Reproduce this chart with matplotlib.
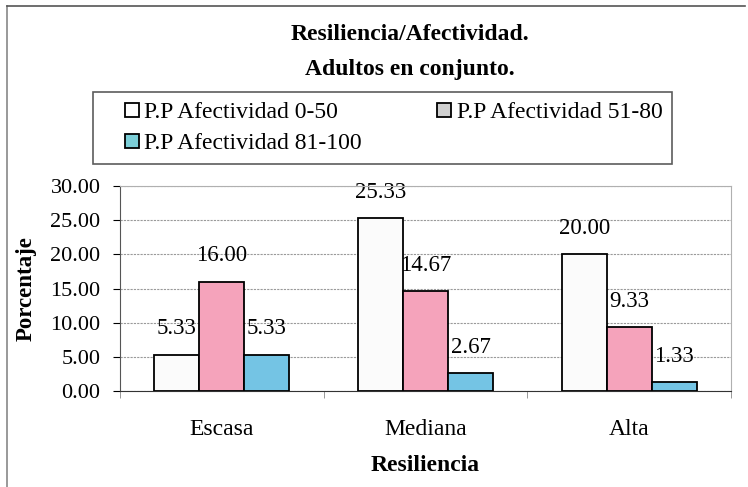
import matplotlib
matplotlib.use("Agg")
import matplotlib.pyplot as plt
from matplotlib.lines import Line2D
import numpy as np

categorias = ["Escasa", "Mediana", "Alta"]
series = ["P.P Afectividad 0-50", "P.P Afectividad 51-80", "P.P Afectividad 81-100"]
afect_0_50 = [5.33, 25.33, 20.00]
afect_51_80 = [16.00, 14.67, 9.33]
afect_81_100 = [5.33, 2.67, 1.33]
valores = [afect_0_50, afect_51_80, afect_81_100]

colores = ["#fbfbfb", "#f5a3bb", "#74c4e4"]
colores_leyenda = ["#ffffff", "#cfcfcf", "#7ccfd8"]

plt.rcParams["font.family"] = ["Liberation Serif", "DejaVu Serif"]

fig = plt.figure(figsize=(7.48, 4.87), dpi=100)
ax = fig.add_axes([120 / 748, 1 - 391 / 487, 611 / 748, 205 / 487])

x = np.arange(len(categorias))
ancho = 0.221
for i, (vals, color) in enumerate(zip(valores, colores)):
    pos = x + (i - 1) * ancho
    ax.bar(pos, vals, width=ancho, color=color, edgecolor="black",
           linewidth=1.3, zorder=3)
    for px, v in zip(pos, vals):
        ax.annotate(f"{v:.2f}", (px, v), xytext=(0, 18.5),
                    textcoords="offset points", ha="center", va="center",
                    fontsize=16.5, zorder=2)

ax.set_xlim(-0.5, 2.5)
ax.set_ylim(0, 30)
ax.set_yticks(np.arange(0, 31, 5))
ax.set_yticklabels([f"{t:.2f}" for t in np.arange(0, 31, 5)], fontsize=16)
ax.set_xticks(x)
ax.set_xticklabels(categorias, fontsize=17)
ax.set_xticks([-0.5, 0.5, 1.5, 2.5], minor=True)
ax.tick_params(axis="x", which="major", length=0, pad=20)
ax.tick_params(axis="x", which="minor", length=5, direction="out", color="#888888")
ax.tick_params(axis="y", length=5, direction="out", pad=9)

ax.grid(axis="y", color="#9a9a9a", linestyle=(0, (2, 1)), linewidth=0.8, zorder=0)
ax.set_axisbelow(True)
for s in ["top", "right"]:
    ax.spines[s].set_color("#b0b0b0")
    ax.spines[s].set_linewidth(0.8)
ax.spines["left"].set_color("#555555")
ax.spines["bottom"].set_color("#333333")

ax.set_xlabel("Resiliencia", fontsize=17, fontweight="bold", labelpad=11)
ax.set_ylabel("Porcentaje", fontsize=16.5, fontweight="bold", labelpad=10)

fig.text(0.548, 1 - 35 / 487, "Resiliencia/Afectividad.", ha="center",
         va="center", fontsize=17, fontweight="bold")
fig.text(0.548, 1 - 70 / 487, "Adultos en conjunto.", ha="center",
         va="center", fontsize=17, fontweight="bold")

# columnas: la primera lleva 0-50 y 81-100, la segunda 51-80
orden = [0, 2, 1]
handles = [Line2D([], [], linestyle="none", marker="s", markersize=10,
                  markerfacecolor=colores_leyenda[k], markeredgecolor="black",
                  markeredgewidth=1.3) for k in orden]
etiquetas = [series[k] for k in orden]
leg = fig.legend(handles, etiquetas, loc="upper left",
                 bbox_to_anchor=(93 / 748, 1 - 162 / 487, 579 / 748, 70 / 487),
                 mode="expand", ncol=2, fontsize=17, frameon=True,
                 fancybox=False, edgecolor="#333333", handlelength=2.45,
                 handletextpad=-0.7, borderpad=0.41, labelspacing=0.4,
                 borderaxespad=0, numpoints=1)
leg.get_frame().set_linewidth(1.2)

# marco exterior
fig.add_artist(Line2D([7 / 748, 7 / 748], [0, 1 - 6 / 487], color="#888888", lw=1.2))
fig.add_artist(Line2D([7 / 748, 745 / 748], [1 - 6 / 487, 1 - 6 / 487], color="#555555", lw=1.2))

fig.savefig("out.png", dpi=100)
